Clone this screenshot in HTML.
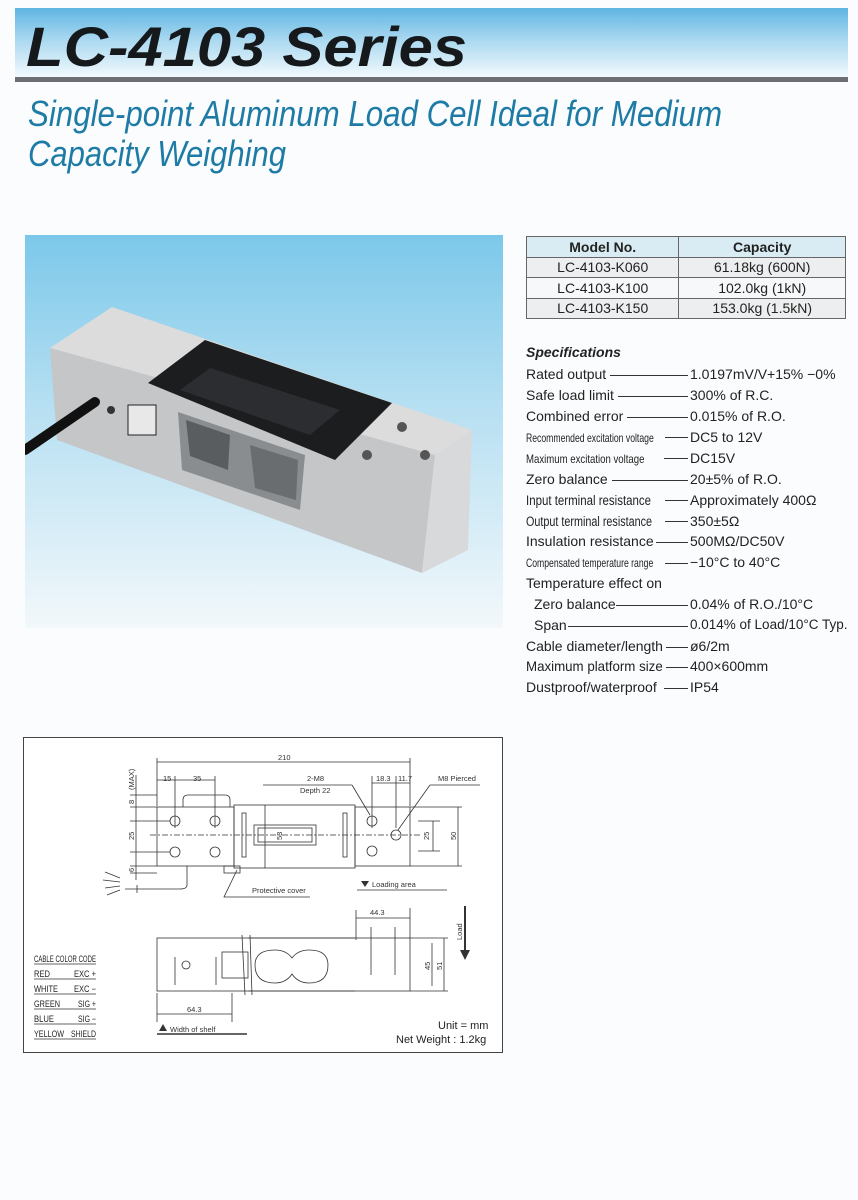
<!DOCTYPE html>
<html><head><meta charset="utf-8">
<style>
*{margin:0;padding:0;box-sizing:border-box}
body{width:858px;height:1200px;background:#fafcfd;position:relative;overflow:hidden;font-family:"Liberation Sans",sans-serif;color:#222}
.hdr{position:absolute;left:15px;top:8px;width:833px;height:70px;background:linear-gradient(180deg,#5fb5e2 0%,#a9d8f0 45%,#f4fafd 100%)}
.rule{position:absolute;left:15px;top:77px;width:833px;height:5px;background:#6b6e72}
.spec{position:absolute;left:526px;font-size:14px;color:#222;white-space:nowrap}
.sm{display:inline-block;font-size:12px;transform-origin:left center}
.sv{position:absolute;left:690px;font-size:14px;white-space:nowrap}
.ln{position:absolute;height:1px;background:#333}
table{position:absolute;left:526px;top:236px;width:320px;border-collapse:collapse;font-size:14px}
td{border:1px solid #666;text-align:center;height:20.5px;padding:0}
</style></head><body>
<div class="hdr"></div>
<div class="rule"></div>
<svg style="position:absolute;left:0;top:0" width="858" height="200">
<text x="26" y="66" font-family="Liberation Sans" font-style="italic" font-weight="bold" font-size="56" fill="#16191c" textLength="441" lengthAdjust="spacingAndGlyphs">LC-4103 Series</text>
<text x="28" y="126" font-family="Liberation Sans" font-style="italic" font-size="36" fill="#1d7ba6" textLength="694" lengthAdjust="spacingAndGlyphs">Single-point Aluminum Load Cell Ideal for Medium</text>
<text x="28" y="166" font-family="Liberation Sans" font-style="italic" font-size="36" fill="#1d7ba6" textLength="258" lengthAdjust="spacingAndGlyphs">Capacity Weighing</text>
</svg>

<svg style="position:absolute;left:25px;top:235px" width="478" height="393">
<defs><linearGradient id="bg" x1="0" y1="0" x2="0" y2="1"><stop offset="0" stop-color="#7cc8ea"/><stop offset="0.45" stop-color="#b8e0f2"/><stop offset="1" stop-color="#f2f8fb"/></linearGradient></defs>
<rect width="478" height="393" fill="url(#bg)"/>
<g transform="translate(-25,-235)">
<polygon points="50,348 112,307 472,430 435,455" fill="#dcdcdc"/>
<polygon points="50,348 435,455 422,573 57,440" fill="#c4c6c8"/>
<polygon points="435,455 472,430 468,550 422,573" fill="#d8d9da"/>
<polygon points="148,383 205,340 392,403 335,460" fill="#1c1d1f"/>
<polygon points="180,390 210,368 340,410 310,435" fill="#2c2d30"/>
<polygon points="178,412 305,455 300,510 182,470" fill="#8a8d90"/>
<polygon points="186,420 230,435 228,470 190,456" fill="#5a5d60"/>
<polygon points="250,445 298,460 296,500 255,488" fill="#6a6d70"/>
<rect x="128" y="405" width="28" height="30" fill="#e8e8e8" stroke="#222"/>
<line x1="25" y1="450" x2="95" y2="402" stroke="#111" stroke-width="10" stroke-linecap="round"/>
<circle cx="111" cy="410" r="4" fill="#333"/>
<circle cx="402" cy="427" r="5" fill="#555"/><circle cx="367" cy="455" r="5" fill="#555"/><circle cx="425" cy="455" r="5" fill="#555"/>
</g>
</svg>

<table>
<tr style="background:#d9ecf3;font-weight:bold"><td>Model No.</td><td>Capacity</td></tr>
<tr style="background:#eceeef"><td>LC-4103-K060</td><td>61.18kg (600N)</td></tr>
<tr style="background:#f6f8f9"><td>LC-4103-K100</td><td>102.0kg (1kN)</td></tr>
<tr style="background:#eceeef"><td>LC-4103-K150</td><td>153.0kg (1.5kN)</td></tr>
</table>

<div class="spec" style="top:344px;font-weight:bold;font-style:italic">Specifications</div>
<div class="spec" style="top:366px">Rated output</div><div class="ln" style="left:610px;width:78px;top:375px"></div><div class="sv" style="top:366px">1.0197mV/V+15% −0%</div>
<div class="spec" style="top:387px">Safe load limit</div><div class="ln" style="left:618px;width:70px;top:396px"></div><div class="sv" style="top:387px">300% of R.C.</div>
<div class="spec" style="top:408px">Combined error</div><div class="ln" style="left:627px;width:61px;top:417px"></div><div class="sv" style="top:408px">0.015% of R.O.</div>
<div class="spec" style="top:429px"><span class="sm" style="transform:scaleX(0.72)">Recommended excitation voltage</span></div><div class="ln" style="left:665px;width:23px;top:437px"></div><div class="sv" style="top:429px">DC5 to 12V</div>
<div class="spec" style="top:450px"><span class="sm" style="transform:scaleX(0.8)">Maximum excitation voltage</span></div><div class="ln" style="left:664px;width:24px;top:458px"></div><div class="sv" style="top:450px">DC15V</div>
<div class="spec" style="top:471px">Zero balance</div><div class="ln" style="left:612px;width:76px;top:480px"></div><div class="sv" style="top:471px">20±5% of R.O.</div>
<div class="spec" style="top:492px"><span class="sm" style="font-size:13.5px;transform:scaleX(0.85)">Input terminal resistance</span></div><div class="ln" style="left:665px;width:23px;top:500px"></div><div class="sv" style="top:492px">Approximately 400Ω</div>
<div class="spec" style="top:513px"><span class="sm" style="font-size:13.5px;transform:scaleX(0.8)">Output terminal resistance</span></div><div class="ln" style="left:665px;width:23px;top:521px"></div><div class="sv" style="top:513px">350±5Ω</div>
<div class="spec" style="top:533px">Insulation resistance</div><div class="ln" style="left:656px;width:32px;top:542px"></div><div class="sv" style="top:533px">500MΩ/DC50V</div>
<div class="spec" style="top:554px"><span class="sm" style="transform:scaleX(0.72)">Compensated temperature range</span></div><div class="ln" style="left:665px;width:23px;top:563px"></div><div class="sv" style="top:554px">−10°C to 40°C</div>
<div class="spec" style="top:575px">Temperature effect on</div>
<div class="spec" style="top:596px;left:534px">Zero balance</div><div class="ln" style="left:616px;width:72px;top:605px"></div><div class="sv" style="top:596px">0.04% of R.O./10°C</div>
<div class="spec" style="top:617px;left:534px">Span</div><div class="ln" style="left:568px;width:120px;top:626px"></div><div class="sv" style="top:617px;font-size:13.5px">0.014% of Load/10°C Typ.</div>
<div class="spec" style="top:638px">Cable diameter/length</div><div class="ln" style="left:666px;width:22px;top:647px"></div><div class="sv" style="top:638px">ø6/2m</div>
<div class="spec" style="top:658px"><span class="sm" style="font-size:14px;transform:scaleX(0.95)">Maximum platform size</span></div><div class="ln" style="left:666px;width:22px;top:667px"></div><div class="sv" style="top:658px">400×600mm</div>
<div class="spec" style="top:679px">Dustproof/waterproof</div><div class="ln" style="left:664px;width:24px;top:688px"></div><div class="sv" style="top:679px">IP54</div>

<svg style="position:absolute;left:0;top:0" width="858" height="1200" font-family="Liberation Sans">
<rect x="23.5" y="737.5" width="479" height="315" fill="#fff" stroke="#444" stroke-width="1"/>
<g stroke="#333" fill="none" stroke-width="0.8">
<rect x="157" y="807" width="77" height="59"/>
<rect x="234" y="805" width="121" height="63"/>
<rect x="355" y="807" width="55" height="59"/>
<rect x="254" y="825" width="62" height="20"/>
<rect x="258" y="828" width="54" height="14"/>
<rect x="242" y="813" width="4" height="44"/><rect x="343" y="813" width="4" height="44"/>
<path d="M183 807 V800 Q183 795 188 795 H225 Q230 795 230 800 V807"/>
<path d="M187 866 V885 Q187 889 180 889 H125"/>
<line x1="137" y1="885" x2="137" y2="893"/>
<path d="M120 878 L105 872 M120 882 L103 880 M120 886 L105 888 M120 890 L107 895"/>
<rect x="224" y="866" width="16" height="7"/>
<path d="M237 870 L224 897 H310"/>
<circle cx="175" cy="821" r="5"/><circle cx="215" cy="821" r="5"/><circle cx="175" cy="852" r="5"/><circle cx="215" cy="852" r="5"/>
<circle cx="372" cy="821" r="5"/><circle cx="372" cy="851" r="5"/><circle cx="396" cy="835" r="5"/>
<line x1="150" y1="835" x2="420" y2="835" stroke-dasharray="6 2 2 2"/>
<line x1="157" y1="758" x2="157" y2="806"/><line x1="410" y1="758" x2="410" y2="806"/>
<line x1="157" y1="762" x2="410" y2="762"/>
<line x1="157" y1="780" x2="215" y2="780"/><line x1="175" y1="776" x2="175" y2="828"/><line x1="215" y1="776" x2="215" y2="828"/>
<line x1="372" y1="783" x2="410" y2="783"/><line x1="372" y1="776" x2="372" y2="828"/><line x1="396" y1="776" x2="396" y2="828"/>
<line x1="130" y1="795" x2="157" y2="795"/><line x1="130" y1="807" x2="157" y2="807"/><line x1="130" y1="821" x2="170" y2="821"/><line x1="130" y1="852" x2="170" y2="852"/><line x1="130" y1="866" x2="157" y2="866"/><line x1="130" y1="873" x2="157" y2="873"/>
<line x1="136" y1="775" x2="136" y2="880"/>
<line x1="263" y1="785" x2="352" y2="785"/><line x1="352" y1="785" x2="370" y2="815"/>
<line x1="480" y1="785" x2="430" y2="785"/><line x1="430" y1="785" x2="398" y2="830"/>
<line x1="410" y1="807" x2="462" y2="807"/><line x1="410" y1="866" x2="462" y2="866"/>
<line x1="418" y1="821" x2="440" y2="821"/><line x1="418" y1="851" x2="440" y2="851"/>
<line x1="433" y1="821" x2="433" y2="851"/><line x1="458" y1="807" x2="458" y2="866"/>
<line x1="265" y1="805" x2="265" y2="868"/>
<line x1="357" y1="890" x2="447" y2="890"/>
<rect x="157" y="938" width="253" height="53"/>
<rect x="222" y="952" width="26" height="26"/>
<path d="M242 935 L245 995 M250 935 L252 995"/>
<line x1="248" y1="938" x2="355" y2="938"/><line x1="248" y1="991" x2="355" y2="991"/>
<path d="M275 950 Q255 950 255 965 Q255 983 275 983 Q286 983 292 974 Q298 983 309 983 Q328 983 328 965 Q328 950 309 950 Q298 950 292 958 Q286 950 275 950 Z"/>
<circle cx="186" cy="965" r="4"/>
<line x1="175" y1="957" x2="175" y2="985"/><line x1="216" y1="957" x2="216" y2="985"/>
<line x1="371" y1="927" x2="371" y2="975"/><line x1="395" y1="927" x2="395" y2="975"/>
<line x1="356" y1="910" x2="356" y2="940"/><line x1="410" y1="908" x2="410" y2="938"/>
<line x1="356" y1="918" x2="410" y2="918"/>
<line x1="157" y1="993" x2="157" y2="1022"/><line x1="232" y1="993" x2="232" y2="1022"/>
<line x1="157" y1="1014" x2="232" y2="1014"/>
<line x1="410" y1="938" x2="448" y2="938"/><line x1="410" y1="991" x2="448" y2="991"/>
<line x1="432" y1="943" x2="432" y2="986"/><line x1="444" y1="938" x2="444" y2="991"/>
<line x1="157" y1="1034" x2="247" y2="1034" stroke-width="1.5"/>
<line x1="465" y1="906" x2="465" y2="950" stroke-width="2"/>
</g>
<polygon points="460,950 470,950 465,960" fill="#333"/>
<polygon points="361,881 369,881 365,887" fill="#333"/>
<polygon points="159,1031 167,1031 163,1024" fill="#333"/>
<g font-size="7.5" fill="#333">
<text x="278" y="760">210</text>
<text x="163" y="781">15</text><text x="193" y="781">35</text>
<text x="307" y="781">2-M8</text><text x="300" y="793">Depth 22</text>
<text x="376" y="781">18.3</text><text x="398" y="781">11.7</text>
<text x="438" y="781">M8 Pierced</text>
<text x="252" y="893">Protective cover</text>
<text x="372" y="887">Loading area</text>
<text x="370" y="915">44.3</text>
<text x="187" y="1012">64.3</text>
<text x="170" y="1032">Width of shelf</text>
<text transform="translate(134,790) rotate(-90)">(MAX)</text>
<text transform="translate(134,804) rotate(-90)">8</text>
<text transform="translate(134,840) rotate(-90)">25</text>
<text transform="translate(134,872) rotate(-90)">6</text>
<text transform="translate(282,840) rotate(-90)">53</text>
<text transform="translate(429,840) rotate(-90)">25</text>
<text transform="translate(456,840) rotate(-90)">50</text>
<text transform="translate(430,970) rotate(-90)">45</text>
<text transform="translate(442,970) rotate(-90)">51</text>
<text transform="translate(462,940) rotate(-90)">Load</text>
</g>
<g font-size="9" fill="#222">
<text x="34" y="962" textLength="62" lengthAdjust="spacingAndGlyphs">CABLE COLOR CODE</text>
<text x="34" y="977" textLength="16" lengthAdjust="spacingAndGlyphs">RED</text><text x="74" y="977" textLength="22" lengthAdjust="spacingAndGlyphs">EXC +</text>
<text x="34" y="992" textLength="24" lengthAdjust="spacingAndGlyphs">WHITE</text><text x="74" y="992" textLength="22" lengthAdjust="spacingAndGlyphs">EXC −</text>
<text x="34" y="1007" textLength="26" lengthAdjust="spacingAndGlyphs">GREEN</text><text x="78" y="1007" textLength="18" lengthAdjust="spacingAndGlyphs">SIG +</text>
<text x="34" y="1022" textLength="20" lengthAdjust="spacingAndGlyphs">BLUE</text><text x="78" y="1022" textLength="18" lengthAdjust="spacingAndGlyphs">SIG −</text>
<text x="34" y="1037" textLength="30" lengthAdjust="spacingAndGlyphs">YELLOW</text><text x="71" y="1037" textLength="25" lengthAdjust="spacingAndGlyphs">SHIELD</text>
</g>
<g stroke="#333" stroke-width="0.7">
<line x1="34" y1="964" x2="96" y2="964"/><line x1="34" y1="979" x2="96" y2="979"/><line x1="34" y1="994" x2="96" y2="994"/><line x1="34" y1="1009" x2="96" y2="1009"/><line x1="34" y1="1024" x2="96" y2="1024"/><line x1="34" y1="1039" x2="96" y2="1039"/>
</g>
<text x="438" y="1029" font-size="11" fill="#222">Unit = mm</text>
<text x="396" y="1043" font-size="11" fill="#222">Net Weight : 1.2kg</text>
</svg>
</body></html>
